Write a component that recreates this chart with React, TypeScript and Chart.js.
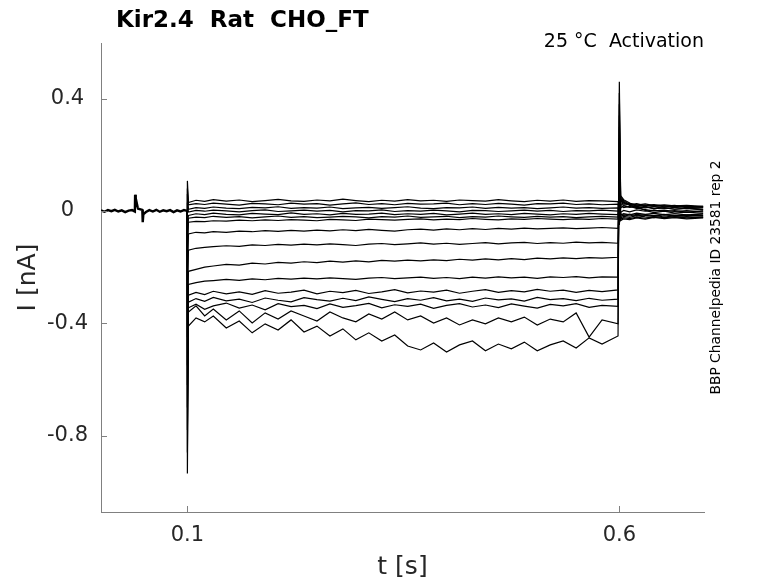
import { useEffect, useRef } from 'react';
import { Chart, registerables } from 'chart.js';

Chart.register(...registerables);

const FONT = '"DejaVu Sans", sans-serif';

const titleText = 'Kir2.4  Rat  CHO_FT';
const noteText = '25 °C  Activation';
const sideText = 'BBP Channelpedia ID 23581 rep 2';
const xTitle = 't [s]';
const yTitle = 'I [nA]';

const xTicks = [0.1, 0.6];
const xTickLabels = ['0.1', '0.6'];
const yTicks = [-0.8, -0.4, 0, 0.4];
const yTickLabels = ['-0.8', '-0.4', '0', '0.4'];

// holding period (all sweeps overlap here), nA
const holdT = [0, 0.004, 0.008, 0.012, 0.016, 0.02, 0.024, 0.028, 0.032, 0.036, 0.0392, 0.0395, 0.0402, 0.0425, 0.043, 0.0478, 0.0483, 0.049, 0.052, 0.056, 0.06, 0.064, 0.068, 0.072, 0.076, 0.08, 0.084, 0.088, 0.092, 0.096, 0.0998];
const holdI = [0.002, -0.003, 0.003, -0.001, 0.004, -0.002, 0.002, -0.004, 0.001, 0.003, -0.002, 0.058, 0.045, 0.012, 0.008, 0.004, -0.04, -0.012, -0.004, 0.003, -0.002, 0.004, -0.003, 0.002, -0.001, 0.003, -0.004, 0.002, -0.002, 0.003, 0.0];

// sample times of each sweep (s): onset, step, offset, tail
const sweepT = [0.0998, 0.1, 0.1012, 0.11, 0.12, 0.13, 0.145, 0.16, 0.175, 0.19, 0.205, 0.22, 0.235, 0.25, 0.265, 0.28, 0.295, 0.31, 0.325, 0.34, 0.355, 0.37, 0.385, 0.4, 0.415, 0.43, 0.445, 0.46, 0.475, 0.49, 0.505, 0.52, 0.535, 0.55, 0.565, 0.58, 0.5985, 0.6, 0.6015, 0.605, 0.612, 0.62, 0.63, 0.64, 0.652, 0.664, 0.678, 0.697];

// sweep currents in pA
const sweep01 = [0, 107, 30, 38, 34, 40, 35, 39, 33, 37, 41, 36, 34, 39, 36, 42, 37, 33, 38, 35, 40, 36, 38, 34, 39, 37, 35, 40, 36, 33, 38, 35, 39, 34, 37, 36, 33, -50, 20, 12, 16, 9, 14, 8, 11, 6, 10, 5];
const sweep02 = [0, 80, 22, 26, 23, 28, 24, 21, 27, 25, 22, 28, 24, 26, 21, 25, 29, 23, 26, 22, 27, 24, 25, 28, 22, 26, 23, 27, 24, 21, 26, 25, 28, 23, 25, 22, 24, -30, -5, 2, -3, 4, -1, 3, -2, 1, -4, 0];
const sweep03 = [0, 60, 6, 12, 9, 14, 10, 8, 13, 11, 15, 9, 12, 10, 14, 8, 11, 13, 9, 12, 15, 10, 8, 12, 11, 14, 9, 13, 10, 12, 8, 11, 14, 10, 12, 9, 11, -10, 10, 18, 13, 16, 11, 15, 9, 13, 8, 11];
const sweep04 = [0, 30, -4, 2, -1, 3, 0, -3, 1, 4, -2, 0, 3, -1, 2, -3, 1, 0, 4, -2, 1, -1, 3, 0, -3, 2, 1, -2, 0, 3, -1, 2, -2, 1, 0, 3, -1, 20, -15, -10, -14, -8, -12, -9, -13, -10, -14, -11];
const sweep05 = [0, -50, -16, -10, -13, -8, -12, -14, -9, -11, -13, -7, -12, -10, -14, -9, -12, -11, -8, -13, -10, -12, -9, -14, -11, -8, -12, -10, -13, -9, -11, -14, -10, -12, -9, -11, -13, 50, 25, 20, 24, 18, 21, 16, 19, 14, 17, 13];
const sweep06 = [0, -100, -26, -22, -24, -19, -23, -20, -25, -21, -18, -23, -20, -24, -22, -19, -21, -25, -20, -22, -18, -23, -21, -19, -24, -20, -22, -18, -21, -23, -19, -22, -20, -24, -21, -19, -22, 70, -20, -14, -18, -12, -16, -19, -13, -17, -15, -18];
const sweep07 = [0, -160, -40, -37, -38, -35, -36, -33, -35, -32, -34, -31, -33, -35, -30, -32, -34, -29, -31, -33, -30, -28, -32, -29, -31, -27, -30, -32, -28, -30, -27, -29, -31, -28, -30, -27, -29, 100, 30, 24, 27, 21, 25, 19, 22, 18, 20, 16];
const sweep08 = [0, -250, -82, -76, -78, -74, -76, -72, -74, -70, -73, -69, -72, -68, -71, -67, -70, -66, -69, -72, -67, -65, -68, -64, -67, -63, -66, -62, -65, -61, -64, -62, -60, -63, -61, -59, -62, 140, -25, -19, -23, -17, -21, -24, -18, -22, -20, -23];
const sweep09 = [0, -350, -140, -133, -130, -127, -124, -126, -121, -123, -119, -122, -118, -121, -117, -120, -123, -118, -116, -120, -117, -114, -118, -115, -119, -116, -113, -117, -114, -112, -116, -113, -115, -111, -114, -112, -115, 180, 35, 28, 25, 22, 18, 20, 15, 17, 12, 14];
const sweep10 = [0, -450, -215, -208, -200, -196, -190, -193, -186, -189, -183, -186, -181, -184, -179, -182, -178, -181, -176, -179, -175, -178, -174, -177, -172, -175, -171, -174, -170, -173, -168, -171, -167, -170, -166, -168, -165, 220, -30, -24, -27, -22, -26, -20, -24, -21, -25, -22];
const sweep11 = [0, -550, -262, -255, -250, -248, -244, -247, -242, -245, -240, -243, -239, -242, -238, -241, -244, -239, -237, -241, -238, -236, -240, -237, -241, -236, -239, -235, -238, -236, -240, -235, -237, -234, -238, -235, -236, 260, 40, 30, 22, 26, 19, 23, 17, 20, 14, 16];
const sweep12 = [0, -620, -300, -290, -298, -286, -295, -288, -297, -284, -293, -289, -282, -295, -286, -291, -283, -294, -288, -280, -292, -285, -289, -282, -293, -286, -280, -290, -284, -288, -279, -286, -282, -290, -283, -287, -281, 300, -10, -16, -11, -18, -13, -17, -12, -19, -15, -17];
const sweep13 = [0, -700, -325, -312, -322, -308, -320, -314, -326, -310, -318, -324, -309, -316, -321, -311, -319, -306, -315, -323, -312, -318, -309, -320, -314, -322, -310, -317, -313, -321, -308, -316, -312, -319, -311, -318, -314, 340, 45, 32, 20, 12, 16, 8, 12, 6, 9, 4];
const sweep14 = [0, -780, -345, -332, -350, -338, -328, -346, -335, -352, -330, -341, -336, -348, -331, -343, -337, -329, -345, -334, -340, -332, -347, -336, -330, -342, -335, -344, -331, -339, -346, -333, -338, -330, -343, -336, -340, 380, -35, -28, -31, -25, -29, -23, -27, -24, -28, -25];
const sweep15 = [0, -860, -360, -338, -374, -349, -388, -356, -399, -363, -385, -356, -374, -392, -360, -381, -395, -367, -385, -360, -388, -374, -399, -381, -406, -388, -402, -381, -395, -378, -406, -385, -395, -363, -449, -388, -402, 420, 50, 36, 24, 10, 5, 0, 3, -2, 1, -3];
const sweep16 = [0, -935, -410, -381, -395, -374, -417, -392, -434, -402, -424, -388, -431, -410, -445, -420, -459, -434, -463, -442, -481, -495, -470, -502, -477, -463, -498, -474, -491, -467, -498, -477, -463, -488, -452, -474, -445, 460, 55, 40, 28, 15, 2, -6, -1, -8, -4, -9];

const sweeps = [sweep01, sweep02, sweep03, sweep04, sweep05, sweep06, sweep07, sweep08, sweep09, sweep10, sweep11, sweep12, sweep13, sweep14, sweep15, sweep16];

const decorPlugin = {
  id: 'decor',
  afterDraw(chart: Chart) {
    const { ctx, chartArea: a, scales } = chart;
    ctx.save();
    ctx.strokeStyle = '#808080';
    ctx.lineWidth = 1;
    ctx.beginPath();
    yTicks.forEach((v) => {
      const p = Math.round(scales.y.getPixelForValue(v)) + 0.5;
      ctx.moveTo(a.left, p);
      ctx.lineTo(a.left + 6, p);
    });
    xTicks.forEach((v) => {
      const p = Math.round(scales.x.getPixelForValue(v)) + 0.5;
      ctx.moveTo(p, a.bottom);
      ctx.lineTo(p, a.bottom - 6);
    });
    ctx.stroke();

    ctx.fillStyle = '#000';
    ctx.font = `bold 23px ${FONT}`;
    ctx.textAlign = 'left';
    ctx.textBaseline = 'alphabetic';
    ctx.fillText(titleText, 116, 27);

    ctx.font = `19px ${FONT}`;
    ctx.textAlign = 'right';
    ctx.fillText(noteText, a.right, 47);

    ctx.fillStyle = '#262626';
    ctx.font = `25px ${FONT}`;
    ctx.textAlign = 'center';
    ctx.textBaseline = 'middle';
    ctx.fillText(xTitle, (a.left + a.right) / 2, 567);

    ctx.save();
    ctx.translate(28, (a.top + a.bottom) / 2);
    ctx.rotate(-Math.PI / 2);
    ctx.fillText(yTitle, 0, 0);
    ctx.restore();

    ctx.fillStyle = '#000';
    ctx.font = `13.8px ${FONT}`;
    ctx.save();
    ctx.translate(716, (a.top + a.bottom) / 2);
    ctx.rotate(-Math.PI / 2);
    ctx.fillText(sideText, 0, 0);
    ctx.restore();

    ctx.restore();
  },
};

export default function App() {
  const canvasRef = useRef<HTMLCanvasElement>(null);

  useEffect(() => {
    document.body.style.margin = '0';
    if (!canvasRef.current) return;
    const ctx = canvasRef.current.getContext('2d');
    if (!ctx) return;

    const traceStyle = {
      borderColor: '#000',
      pointRadius: 0,
      tension: 0,
      fill: false,
    };

    const chart = new Chart(ctx, {
      type: 'line',
      data: {
        datasets: [
          {
            ...traceStyle,
            borderWidth: 2.4,
            data: holdT.map((t, i) => ({ x: t, y: holdI[i] })),
          },
          ...sweeps.map((s) => ({
            ...traceStyle,
            borderWidth: 1.2,
            data: sweepT.map((t, i) => ({ x: t, y: s[i] / 1000 })),
          })),
        ],
      },
      options: {
        responsive: false,
        animation: false,
        layout: { padding: { top: 43, right: 74, left: 0, bottom: 0 } },
        plugins: {
          legend: { display: false },
          tooltip: { enabled: false },
        },
        scales: {
          x: {
            type: 'linear',
            min: 0,
            max: 0.698,
            afterFit: (s) => {
              s.height = 71;
            },
            afterBuildTicks: (s) => {
              s.ticks = xTicks.map((v) => ({ value: v }));
            },
            grid: { display: false, drawTicks: false },
            border: { display: true, color: '#808080', width: 1 },
            ticks: {
              autoSkip: false,
              maxRotation: 0,
              padding: 11,
              color: '#262626',
              font: { size: 21, family: FONT },
              callback: (v) => xTickLabels[xTicks.indexOf(Number(v))] ?? '',
            },
          },
          y: {
            type: 'linear',
            min: -1.072,
            max: 0.598,
            afterFit: (s) => {
              s.width = 101;
            },
            afterBuildTicks: (s) => {
              s.ticks = yTicks.map((v) => ({ value: v }));
            },
            grid: { display: false, drawTicks: false },
            border: { display: true, color: '#808080', width: 1 },
            ticks: {
              autoSkip: false,
              crossAlign: 'center',
              padding: 13,
              color: '#262626',
              font: { size: 21, family: FONT },
              callback: (v) => yTickLabels[yTicks.indexOf(Number(v))] ?? '',
            },
          },
        },
      },
      plugins: [decorPlugin],
    });

    return () => {
      chart.destroy();
    };
  }, []);

  return (
    <div style={{ width: 778, height: 583, background: '#fff' }}>
      <canvas ref={canvasRef} width={778} height={583} style={{ display: 'block' }} />
    </div>
  );
}
